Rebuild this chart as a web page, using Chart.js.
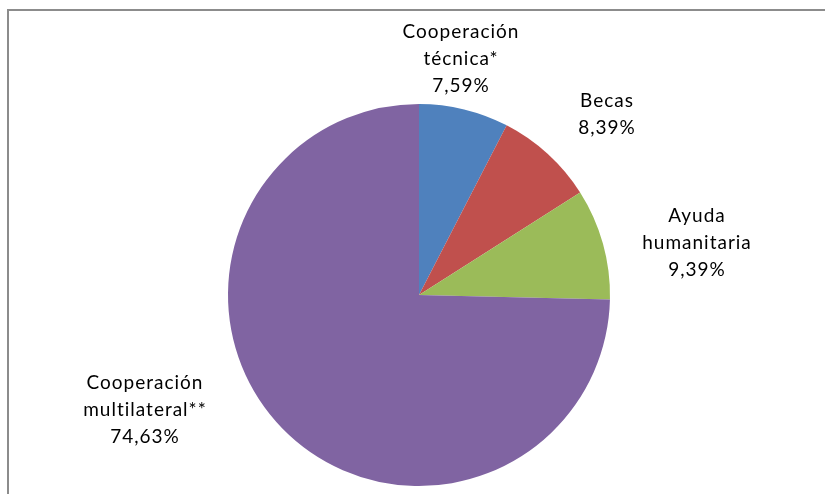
<!DOCTYPE html>
<html>
<head>
<meta charset="utf-8">
<script src="https://cdn.jsdelivr.net/npm/chart.js@4/dist/chart.umd.min.js"></script>
<style>
  html, body { margin: 0; padding: 0; background: #fff; }
  #wrap { width: 825px; height: 494px; }
</style>
</head>
<body>
<div id="wrap"><canvas id="chart" width="825" height="494"></canvas></div>
<script>
// datos del grafico
var categorias = [
    ['Cooperación', 'técnica*'],
    ['Becas'],
    ['Ayuda', 'humanitaria'],
    ['Cooperación', 'multilateral**']
];
var valores = [7.59, 8.39, 9.39, 74.63];
var etiquetas = ['7,59%', '8,39%', '9,39%', '74,63%'];
var colores = ['#4f81bd', '#c0504d', '#9bbb59', '#8064a2'];
// donde va cada rotulo, respecto al centro de la tarta
var posRotulos = [[42, -236], [188, -181], [278, -52], [-274, 115]];

// marco gris del area del grafico
var marco = {
    id: 'marco',
    beforeDraw: function (chart) {
        var ctx = chart.ctx;
        ctx.save();
        ctx.strokeStyle = '#8c8c8c';
        ctx.lineWidth = 2;
        ctx.strokeRect(8, 10, 900, 600);
        ctx.restore();
    }
};

// rotulos de cada sector
var rotulos = {
    id: 'rotulos',
    afterDatasetsDraw: function (chart) {
        var ctx = chart.ctx;
        var meta = chart.getDatasetMeta(0);
        var lineH = 27;
        ctx.save();
        ctx.font = '19px Lato';
        ctx.letterSpacing = '1px';
        ctx.fillStyle = '#000';
        ctx.textAlign = 'center';
        ctx.textBaseline = 'middle';
        meta.data.forEach(function (arc, i) {
            var lines = categorias[i].concat([etiquetas[i]]);
            var h = lines.length * lineH;
            var cx = arc.x + posRotulos[i][0];
            var cy = arc.y + posRotulos[i][1];
            lines.forEach(function (t, j) {
                ctx.fillText(t, cx, cy - h / 2 + lineH / 2 + j * lineH);
            });
        });
        ctx.restore();
    }
};

new Chart(document.getElementById('chart'), {
    type: 'pie',
    data: {
        labels: categorias,
        datasets: [{
            data: valores,
            backgroundColor: colores,
            borderWidth: 0
        }]
    },
    options: {
        responsive: false,
        animation: false,
        layout: {
            padding: { top: 104, bottom: 8, left: 228, right: 215 }
        },
        plugins: {
            legend: { display: false },
            tooltip: { enabled: false }
        }
    },
    plugins: [marco, rotulos]
});
</script>
</body>
</html>
